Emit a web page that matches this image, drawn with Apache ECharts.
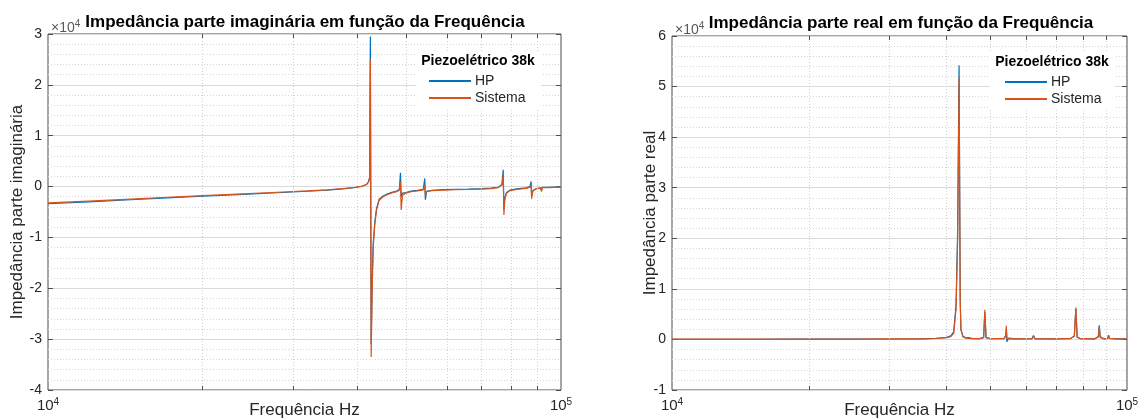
<!DOCTYPE html>
<html>
<head>
<meta charset="utf-8">
<script src="https://cdn.jsdelivr.net/npm/echarts@6/dist/echarts.min.js"></script>
<style>
  html, body { margin: 0; padding: 0; background: #fff; }
  #chart { width: 1138px; height: 419px; }
</style>
</head>
<body>
<div id="chart"></div>
<script>
// parte imaginária (ohms)
var imagFreq = [10000, 12000, 14500, 17500, 20000, 24000, 28000, 32000, 35000, 37500,
  39500, 41000, 41800, 42150, 42350, 42500, 42650, 42850, 43050, 43350,
  43700, 44200, 45000, 45800, 46800, 47800, 48400, 48650, 48800, 49100,
  49800, 51000, 52500, 53900, 54250, 54400, 54700, 56000, 59000, 62200,
  62500, 62750, 66000, 70000, 73000, 75500, 76700, 77150, 77400, 77700,
  78300, 79500, 82000, 85500, 87000, 87450, 87650, 88100, 89500, 91300,
  91600, 91900, 94000, 97000, 100000];
var imagHP = [-3380, -3000, -2590, -2180, -1900, -1520, -1210, -920, -710, -470,
  -230, 60, 420, 950, 1800, 29500, -31000, -18500, -11000, -7000,
  -4300, -2500, -1850, -1480, -1130, -880, -600, 2700, -2000, -1300,
  -1180, -900, -760, -560, 1600, -2600, -950, -720, -600, -540,
  -820, -380, -500, -420, -320, -130, 400, 3300, -4500, -2300,
  -1150, -700, -460, -260, 0, 1000, -1800, -800, -380, -230,
  -800, -150, -160, -100, -50];
var imagSistema = [-3200, -2850, -2450, -2050, -1780, -1420, -1120, -850, -650, -420,
  -180, 100, 450, 900, 1600, 25000, -33500, -20000, -12000, -7500,
  -4600, -2700, -2000, -1600, -1250, -1000, -700, 1000, -4600, -1700,
  -1300, -1000, -850, -650, 300, -1650, -1000, -800, -680, -620,
  -900, -450, -580, -500, -400, -200, 300, 2200, -5600, -2600,
  -1300, -800, -550, -350, -100, 300, -2400, -900, -450, -300,
  -1000, -200, -220, -150, -100];

// parte real (ohms)
var realFreq = [10000, 15000, 20000, 25000, 30000, 35000, 38000, 40000, 41000, 41600,
  42100, 42450, 42750, 43000, 43150, 43600, 44300, 44900, 45800, 47500,
  48400, 48700, 49000, 50000, 53700, 54150, 54300, 54450, 54800, 57000,
  61800, 62300, 62800, 68000, 75000, 76600, 77200, 77700, 79000, 85000,
  86500, 86900, 87300, 89000, 90700, 91100, 91500, 95000, 100000];
var realHP = [40, 40, 50, 60, 80, 110, 200, 380, 700, 1500,
  6800, 22000, 54200, 7500, 2000, 600, 300, 350, 150, 150,
  350, 5400, 350, 150, 150, 700, 2000, -450, 100, 110,
  130, 800, 130, 100, 150, 650, 6000, 450, 150, 120,
  600, 2800, 500, 120, 200, 850, 200, 100, 100];
var realSistema = [60, 60, 70, 80, 90, 120, 180, 300, 550, 1200,
  6000, 20000, 51800, 8000, 1900, 500, 250, 200, 150, 150,
  400, 5800, 400, 150, 150, 900, 2700, 300, 150, 120,
  120, 600, 120, 100, 150, 700, 6300, 500, 150, 120,
  500, 2500, 400, 120, 200, 800, 200, 100, 100];

// grade secundária do eixo log
var minorFreqs = [20000, 30000, 40000, 50000, 60000, 70000, 80000, 90000];

var FONT = '"Liberation Sans", Arial, sans-serif';
var TXT = '#262626';

function zip(xs, ys) {
  return xs.map(function (x, i) { return [x, ys[i]]; });
}

function gridMarks(yMin, yMax, tickLen) {
  var tick = { type: 'solid', color: '#4d4d4d', width: 1 };
  var items = [];
  minorFreqs.forEach(function (f) { items.push({ xAxis: f }); });
  minorFreqs.forEach(function (f) {
    items.push([{ coord: [f, yMin], lineStyle: tick }, { coord: [f, yMin + tickLen], lineStyle: tick }]);
    items.push([{ coord: [f, yMax], lineStyle: tick }, { coord: [f, yMax - tickLen], lineStyle: tick }]);
  });
  return {
    silent: true,
    symbol: ['none', 'none'],
    label: { show: false },
    lineStyle: { color: '#d0d0d0', type: [1, 2], width: 1 },
    data: items
  };
}

function xAxisOpt(gi) {
  return {
    gridIndex: gi, type: 'log', logBase: 10, min: 10000, max: 100000,
    axisLine: { show: false }, axisTick: { show: false }, splitLine: { show: false },
    axisLabel: {
      margin: 7, color: TXT, showMinLabel: true, showMaxLabel: true,
      formatter: function (v) { return '{b|10}{s|' + Math.round(Math.log10(v)) + '}'; },
      rich: {
        b: { fontSize: 15, color: TXT, fontFamily: FONT },
        s: { fontSize: 10, color: TXT, fontFamily: FONT, padding: [0, 0, 8, 0] }
      }
    },
    name: 'Frequência Hz', nameLocation: 'middle', nameGap: 12, nameMoveOverlap: false,
    nameTextStyle: { fontSize: 17, color: TXT, fontFamily: FONT }
  };
}

function yAxisOpt(gi, min, max, name, gap) {
  return {
    gridIndex: gi, type: 'value', min: min, max: max, interval: 10000,
    axisLine: { show: false },
    axisTick: { show: true, inside: true, length: 5, lineStyle: { color: '#4d4d4d' } },
    axisLabel: { color: TXT, fontSize: 14, margin: 6, formatter: function (v) { return String(v / 10000); } },
    splitLine: { show: true, lineStyle: { color: '#dadada', width: 1 } },
    minorTick: { show: false, splitNumber: 5 },
    minorSplitLine: { show: true, lineStyle: { color: '#d6d6d6', type: [1, 2], width: 1 } },
    name: name, nameLocation: 'middle', nameGap: gap, nameMoveOverlap: false,
    nameTextStyle: { fontSize: 17, color: TXT, fontFamily: FONT }
  };
}

function yAxisRight(gi, min, max) {
  return {
    gridIndex: gi, type: 'value', min: min, max: max, interval: 10000, position: 'right',
    axisLine: { show: false }, axisLabel: { show: false }, splitLine: { show: false },
    axisTick: { show: true, inside: true, length: 5, lineStyle: { color: '#4d4d4d' } }
  };
}

function legendOpt(left, top) {
  return {
    data: ['HP', 'Sistema'], orient: 'vertical', left: left, top: top, padding: 0, z: 12,
    itemWidth: 42, itemHeight: 2, itemGap: 3, icon: 'rect', selectedMode: false,
    textStyle: { fontSize: 14, color: TXT, fontFamily: FONT, padding: [0, 0, 0, -1] }
  };
}

function label(x, y, text, font) {
  return {
    type: 'text', x: x, y: y, silent: true, z: 11,
    style: { text: text, font: font, fill: '#000', textAlign: 'center', align: 'center', textVerticalAlign: 'middle', verticalAlign: 'middle' }
  };
}

function expLabel(x, y) {
  return {
    type: 'text', x: x, y: y, silent: true, z: 11,
    style: {
      text: '{b|×10}{s|4}', fill: '#595959',
      rich: {
        b: { fontSize: 14, fontFamily: FONT, fill: '#595959' },
        s: { fontSize: 10, fontFamily: FONT, fill: '#595959', padding: [0, 0, 8, 0] }
      }
    }
  };
}

function legendBox(x, y, w, h) {
  return { type: 'rect', silent: true, z: 10, shape: { x: x, y: y, width: w, height: h }, style: { fill: '#fff' } };
}

var myChart = echarts.init(document.getElementById('chart'));
var option = {
  animation: false,
  color: ['#0072BD', '#D95319'],
  textStyle: { fontFamily: FONT },
  grid: [
    { left: 48, top: 34, width: 513, height: 356, outerBoundsMode: 'none', containLabel: false,
      show: true, borderColor: '#4d4d4d', borderWidth: 1, backgroundColor: 'transparent' },
    { left: 672, top: 36, width: 455, height: 354, outerBoundsMode: 'none', containLabel: false,
      show: true, borderColor: '#4d4d4d', borderWidth: 1, backgroundColor: 'transparent' }
  ],
  xAxis: [xAxisOpt(0), xAxisOpt(1)],
  yAxis: [
    yAxisOpt(0, -40000, 30000, 'Impedância parte imaginária', 22),
    yAxisOpt(1, -10000, 60000, 'Impedância parte real', 13),
    yAxisRight(0, -40000, 30000),
    yAxisRight(1, -10000, 60000)
  ],
  legend: [legendOpt(429, 74), legendOpt(1005, 75)],
  graphic: [
    legendBox(416, 52, 125, 57),
    legendBox(990, 53, 125, 57),
    label(305, 22, 'Impedância parte imaginária em função da Frequência', 'bold 17px ' + FONT),
    label(901, 23, 'Impedância parte real em função da Frequência', 'bold 17px ' + FONT),
    label(478, 61, 'Piezoelétrico 38k', 'bold 14px ' + FONT),
    label(1052, 62, 'Piezoelétrico 38k', 'bold 14px ' + FONT),
    expLabel(51, 19),
    expLabel(675, 21)
  ],
  series: [
    { name: 'grade', type: 'line', xAxisIndex: 0, yAxisIndex: 0, data: [], z: 1, markLine: gridMarks(-40000, 30000, 800) },
    { name: 'grade', type: 'line', xAxisIndex: 1, yAxisIndex: 1, data: [], z: 1, markLine: gridMarks(-10000, 60000, 800) },
    { name: 'HP', type: 'line', xAxisIndex: 0, yAxisIndex: 0, showSymbol: false, symbol: 'none',
      lineStyle: { width: 1.2, color: '#0072BD' }, itemStyle: { color: '#0072BD' }, data: zip(imagFreq, imagHP) },
    { name: 'Sistema', type: 'line', xAxisIndex: 0, yAxisIndex: 0, showSymbol: false, symbol: 'none',
      lineStyle: { width: 1.2, color: '#D95319' }, itemStyle: { color: '#D95319' }, data: zip(imagFreq, imagSistema) },
    { name: 'HP', type: 'line', xAxisIndex: 1, yAxisIndex: 1, showSymbol: false, symbol: 'none',
      lineStyle: { width: 1.2, color: '#0072BD' }, itemStyle: { color: '#0072BD' }, data: zip(realFreq, realHP) },
    { name: 'Sistema', type: 'line', xAxisIndex: 1, yAxisIndex: 1, showSymbol: false, symbol: 'none',
      lineStyle: { width: 1.2, color: '#D95319' }, itemStyle: { color: '#D95319' }, data: zip(realFreq, realSistema) }
  ]
};
myChart.setOption(option);
</script>
</body>
</html>
